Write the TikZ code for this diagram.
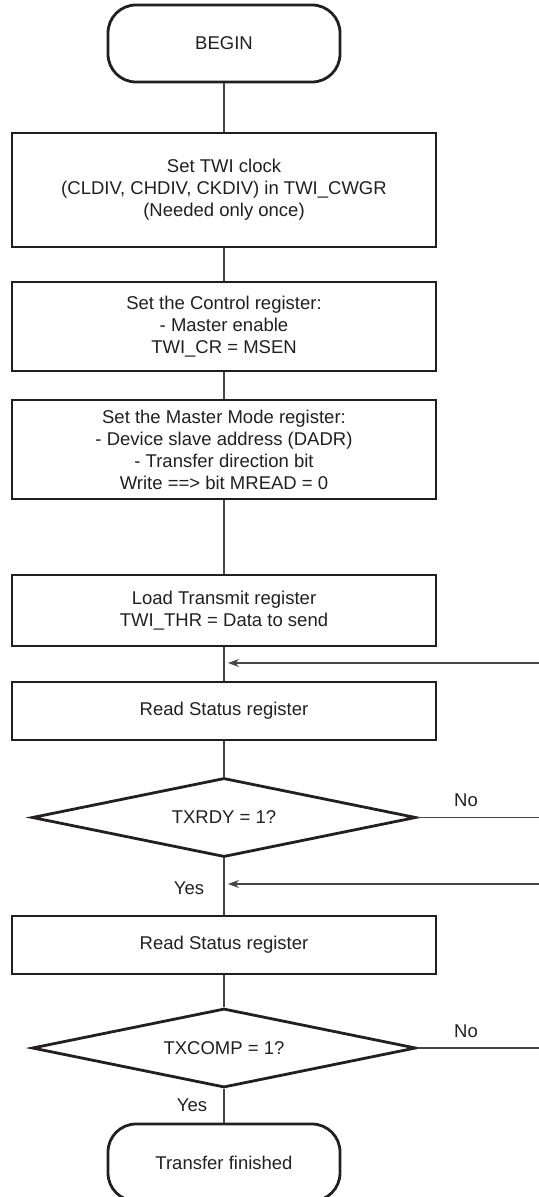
\documentclass[tikz,border=0pt]{standalone}
\usepackage{fontspec}
\setmainfont{Liberation Sans}
\usepackage{tikz}
\usetikzlibrary{
  arrows.meta,shapes.geometric
}
\definecolor{InkBlack}{RGB}{35,31,32}
\definecolor{WireGray}{RGB}{70,70,70}

\begin{document}
\begin{tikzpicture}[x=.5pt,y=-.5pt,
    every node/.style={font=\fontsize{9.25}{11}\selectfont,text=InkBlack},
    term/.style={draw=InkBlack,line width=1.4pt,rounded corners=14pt,
      minimum width=116pt,minimum height=38.5pt},
    proc/.style={draw=InkBlack,line width=1.4pt,align=center,minimum width=212pt},
    ask/.style={draw=InkBlack,line width=1.4pt,diamond,shape aspect=2.4,
      inner sep=0pt,minimum width=192pt,minimum height=39.5pt},
    wire/.style={draw=WireGray,line width=.7pt},
    back/.style={wire,-{Stealth[length=5.5pt,width=4pt]},shorten >=2pt}]
  \useasboundingbox (0,0) rectangle (539,1197);
  % flow column
  \node[term] (begin) at (224,43.5) {BEGIN};
  \node[proc,minimum height=57pt] (clk) at (224,190)
    {Set TWI clock\\(CLDIV, CHDIV, CKDIV) in TWI\_CWGR\\(Needed only once)};
  \node[proc,minimum height=44.5pt] (ctrl) at (224,326.5)
    {Set the Control register:\\- Master enable\\TWI\_CR = MSEN};
  \node[proc,minimum height=49.5pt] (mode) at (224,449.5)
    {Set the Master Mode register:\\- Device slave address (DADR)\\- Transfer direction bit\\Write ==> bit MREAD = 0};
  \node[proc,minimum height=35.5pt] (thr) at (224,610.5)
    {Load Transmit register\\TWI\_THR = Data to send};
  \node[proc,minimum height=29pt] (read1) at (224,711) {Read Status register};
  \node[ask] (rdy) at (224,817.5) {TXRDY = 1?};
  \node[proc,minimum height=29pt] (read2) at (224,945) {Read Status register};
  \node[ask] (comp) at (224,1048) {TXCOMP = 1?};
  \node[term] (fin) at (224,1162.5) {Transfer finished};
  \foreach \a/\b in {begin/clk,clk/ctrl,ctrl/mode,mode/thr,thr/read1,read1/rdy,rdy/read2,read2/comp,comp/fin}
    \draw[wire] (\a) -- (\b);
  % loops from the right edge
  \coordinate (j1) at (224,663);
  \coordinate (r1) at (545,663);
  \coordinate (j2) at (224,884);
  \coordinate (r2) at (545,884);
  \coordinate (n1) at (545,817.5);
  \coordinate (n2) at (545,1048);
  \draw[back] (r1) -- (j1);
  \draw[back] (r2) -- (j2);
  \draw[wire] (rdy.east) -- (n1);
  \draw[wire] (comp.east) -- (n2);
  \node (no1) at (466,800) {No};
  \node (no2) at (466,1031) {No};
  \node (yes1) at (189,888) {Yes};
  \node (yes2) at (192,1105) {Yes};
\end{tikzpicture}
\end{document}
